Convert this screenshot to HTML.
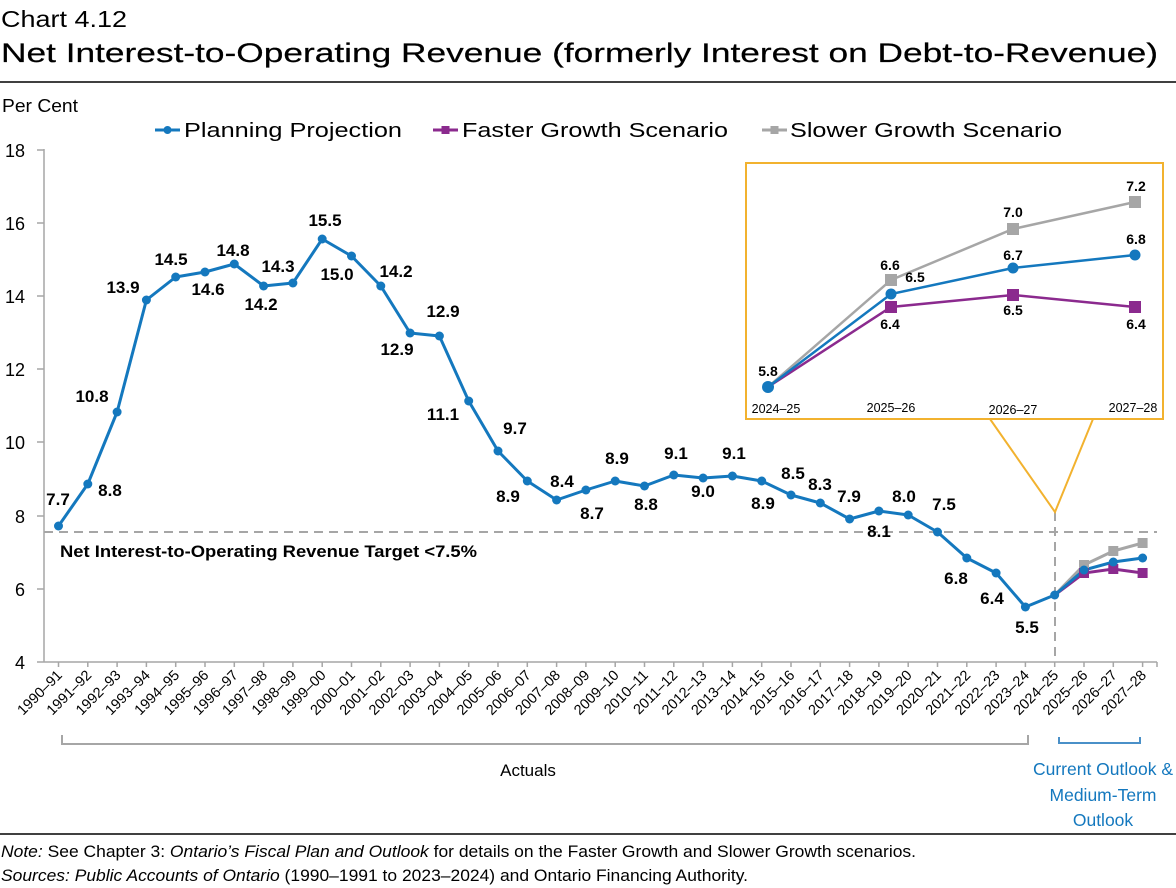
<!DOCTYPE html>
<html><head><meta charset="utf-8"><style>
html,body{margin:0;padding:0;background:#fff;}
svg{display:block;font-family:"Liberation Sans",Arial,sans-serif;}
</style></head><body>
<svg width="1176" height="888" viewBox="0 0 1176 888" xmlns="http://www.w3.org/2000/svg">
<text x="1" y="27" font-size="23" fill="#000" textLength="126" lengthAdjust="spacingAndGlyphs">Chart 4.12</text>
<text x="1" y="62" font-size="27" fill="#000" stroke="#000" stroke-width="0.2" textLength="1157" lengthAdjust="spacingAndGlyphs">Net Interest-to-Operating Revenue (formerly Interest on Debt-to-Revenue)</text>
<line x1="0" y1="82" x2="1176" y2="82" stroke="#000" stroke-width="1.5"/>
<text x="2" y="112" font-size="18" fill="#000" textLength="76" lengthAdjust="spacingAndGlyphs">Per Cent</text>

<line x1="155" y1="130" x2="180" y2="130" stroke="#1478BE" stroke-width="3"/>
<circle cx="167.5" cy="130" r="4" fill="#1478BE"/>
<text x="184" y="137" font-size="20" fill="#000" textLength="218" lengthAdjust="spacingAndGlyphs">Planning Projection</text>
<line x1="433" y1="130" x2="458" y2="130" stroke="#8B2A8E" stroke-width="3"/>
<rect x="441.5" y="126" width="8" height="8" fill="#8B2A8E"/>
<text x="462" y="137" font-size="20" fill="#000" textLength="266" lengthAdjust="spacingAndGlyphs">Faster Growth Scenario</text>
<line x1="762" y1="130" x2="787" y2="130" stroke="#A6A6A6" stroke-width="3"/>
<rect x="770.5" y="126" width="8" height="8" fill="#A6A6A6"/>
<text x="790" y="137" font-size="20" fill="#000" textLength="272" lengthAdjust="spacingAndGlyphs">Slower Growth Scenario</text>

<g stroke="#A6A6A6" stroke-width="1.5">
<line x1="44" y1="149" x2="44" y2="662"/>
<line x1="37" y1="150" x2="44" y2="150"/>
<line x1="37" y1="223" x2="44" y2="223"/>
<line x1="37" y1="296" x2="44" y2="296"/>
<line x1="37" y1="369" x2="44" y2="369"/>
<line x1="37" y1="442" x2="44" y2="442"/>
<line x1="37" y1="516" x2="44" y2="516"/>
<line x1="37" y1="589" x2="44" y2="589"/>
<line x1="37" y1="662" x2="1157" y2="662"/>
</g>
<g font-size="18" fill="#000" text-anchor="end">
<text x="25" y="157">18</text><text x="25" y="230">16</text><text x="25" y="303">14</text>
<text x="25" y="376">12</text><text x="25" y="449">10</text><text x="25" y="523">8</text>
<text x="25" y="596">6</text><text x="25" y="669">4</text>
</g>
<g stroke="#A6A6A6" stroke-width="1.5">
<path d="M58.5 662v5M87.8 662v5M117.1 662v5M146.4 662v5M175.7 662v5M205 662v5M234.3 662v5M263.6 662v5M292.9 662v5M322.2 662v5M351.5 662v5M380.8 662v5M410.1 662v5M439.4 662v5M468.7 662v5M498 662v5M527.3 662v5M556.6 662v5M585.9 662v5M615.2 662v5M644.5 662v5M673.8 662v5M703.1 662v5M732.4 662v5M761.7 662v5M791 662v5M820.3 662v5M849.6 662v5M878.9 662v5M908.2 662v5M937.5 662v5M966.8 662v5M996.1 662v5M1025.4 662v5M1054.7 662v5M1084 662v5M1113.3 662v5M1142.6 662v5M1157 662v5"/>
</g>
<g font-size="14.5" fill="#000" text-anchor="end">
<text transform="translate(63,676) rotate(-45)">1990–91</text>
<text transform="translate(92.3,676) rotate(-45)">1991–92</text>
<text transform="translate(121.6,676) rotate(-45)">1992–93</text>
<text transform="translate(150.9,676) rotate(-45)">1993–94</text>
<text transform="translate(180.2,676) rotate(-45)">1994–95</text>
<text transform="translate(209.5,676) rotate(-45)">1995–96</text>
<text transform="translate(238.8,676) rotate(-45)">1996–97</text>
<text transform="translate(268.1,676) rotate(-45)">1997–98</text>
<text transform="translate(297.4,676) rotate(-45)">1998–99</text>
<text transform="translate(326.7,676) rotate(-45)">1999–00</text>
<text transform="translate(356,676) rotate(-45)">2000–01</text>
<text transform="translate(385.3,676) rotate(-45)">2001–02</text>
<text transform="translate(414.6,676) rotate(-45)">2002–03</text>
<text transform="translate(443.9,676) rotate(-45)">2003–04</text>
<text transform="translate(473.2,676) rotate(-45)">2004–05</text>
<text transform="translate(502.5,676) rotate(-45)">2005–06</text>
<text transform="translate(531.8,676) rotate(-45)">2006–07</text>
<text transform="translate(561.1,676) rotate(-45)">2007–08</text>
<text transform="translate(590.4,676) rotate(-45)">2008–09</text>
<text transform="translate(619.7,676) rotate(-45)">2009–10</text>
<text transform="translate(649,676) rotate(-45)">2010–11</text>
<text transform="translate(678.3,676) rotate(-45)">2011–12</text>
<text transform="translate(707.6,676) rotate(-45)">2012–13</text>
<text transform="translate(736.9,676) rotate(-45)">2013–14</text>
<text transform="translate(766.2,676) rotate(-45)">2014–15</text>
<text transform="translate(795.5,676) rotate(-45)">2015–16</text>
<text transform="translate(824.8,676) rotate(-45)">2016–17</text>
<text transform="translate(854.1,676) rotate(-45)">2017–18</text>
<text transform="translate(883.4,676) rotate(-45)">2018–19</text>
<text transform="translate(912.7,676) rotate(-45)">2019–20</text>
<text transform="translate(942,676) rotate(-45)">2020–21</text>
<text transform="translate(971.3,676) rotate(-45)">2021–22</text>
<text transform="translate(1000.6,676) rotate(-45)">2022–23</text>
<text transform="translate(1029.9,676) rotate(-45)">2023–24</text>
<text transform="translate(1059.2,676) rotate(-45)">2024–25</text>
<text transform="translate(1088.5,676) rotate(-45)">2025–26</text>
<text transform="translate(1117.8,676) rotate(-45)">2026–27</text>
<text transform="translate(1147.1,676) rotate(-45)">2027–28</text>
</g>

<line x1="44" y1="532" x2="1157" y2="532" stroke="#A6A6A6" stroke-width="2" stroke-dasharray="9,6"/>
<line x1="1055" y1="512" x2="1055" y2="662" stroke="#A6A6A6" stroke-width="2" stroke-dasharray="9,6"/>
<text x="60" y="557" font-size="17" font-weight="bold" fill="#000" textLength="417" lengthAdjust="spacingAndGlyphs">Net Interest-to-Operating  Revenue Target &lt;7.5%</text>

<rect x="746" y="163" width="417" height="256" fill="#fff" stroke="#F2B22F" stroke-width="2"/>
<polyline points="990,419 1055,512 1093,419" fill="none" stroke="#F2B22F" stroke-width="2"/>

<polyline fill="none" stroke="#1478BE" stroke-width="3" stroke-linejoin="round" points="58.5,526 87.8,484 117.1,412 146.4,300 175.7,277 205,272 234.3,264 263.6,286 292.9,283 322.2,239 351.5,256 380.8,286 410.1,333 439.4,336 468.7,401 498,451 527.3,481 556.6,500 585.9,490 615.2,481 644.5,486 673.8,475 703.1,478 732.4,476 761.7,481 791,495 820.3,503 849.6,519 878.9,511 908.2,515 937.5,532 966.8,558 996.1,573 1025.4,607 1054.7,595"/>
<polyline fill="none" stroke="#A6A6A6" stroke-width="3" points="1054.7,595 1084,565 1113.3,551 1142.6,543"/>
<polyline fill="none" stroke="#8B2A8E" stroke-width="3" points="1054.7,595 1084,573 1113.3,569 1142.6,573"/>
<polyline fill="none" stroke="#1478BE" stroke-width="3" points="1054.7,595 1084,570 1113.3,562 1142.6,558"/>
<g fill="#A6A6A6"><rect x="1079" y="560" width="10" height="10"/><rect x="1108.3" y="546" width="10" height="10"/><rect x="1137.6" y="538" width="10" height="10"/></g>
<g fill="#8B2A8E"><rect x="1079" y="568" width="10" height="10"/><rect x="1108.3" y="564" width="10" height="10"/><rect x="1137.6" y="568" width="10" height="10"/></g>
<g fill="#1478BE">
<circle cx="58.5" cy="526" r="4.5"/><circle cx="87.8" cy="484" r="4.5"/><circle cx="117.1" cy="412" r="4.5"/><circle cx="146.4" cy="300" r="4.5"/><circle cx="175.7" cy="277" r="4.5"/><circle cx="205" cy="272" r="4.5"/><circle cx="234.3" cy="264" r="4.5"/><circle cx="263.6" cy="286" r="4.5"/><circle cx="292.9" cy="283" r="4.5"/><circle cx="322.2" cy="239" r="4.5"/><circle cx="351.5" cy="256" r="4.5"/><circle cx="380.8" cy="286" r="4.5"/><circle cx="410.1" cy="333" r="4.5"/><circle cx="439.4" cy="336" r="4.5"/><circle cx="468.7" cy="401" r="4.5"/><circle cx="498" cy="451" r="4.5"/><circle cx="527.3" cy="481" r="4.5"/><circle cx="556.6" cy="500" r="4.5"/><circle cx="585.9" cy="490" r="4.5"/><circle cx="615.2" cy="481" r="4.5"/><circle cx="644.5" cy="486" r="4.5"/><circle cx="673.8" cy="475" r="4.5"/><circle cx="703.1" cy="478" r="4.5"/><circle cx="732.4" cy="476" r="4.5"/><circle cx="761.7" cy="481" r="4.5"/><circle cx="791" cy="495" r="4.5"/><circle cx="820.3" cy="503" r="4.5"/><circle cx="849.6" cy="519" r="4.5"/><circle cx="878.9" cy="511" r="4.5"/><circle cx="908.2" cy="515" r="4.5"/><circle cx="937.5" cy="532" r="4.5"/><circle cx="966.8" cy="558" r="4.5"/><circle cx="996.1" cy="573" r="4.5"/><circle cx="1025.4" cy="607" r="4.5"/><circle cx="1054.7" cy="595" r="4.5"/><circle cx="1084" cy="570" r="4.5"/><circle cx="1113.3" cy="562" r="4.5"/><circle cx="1142.6" cy="558" r="4.5"/>
</g>

<g font-size="17" font-weight="bold" fill="#000" text-anchor="middle">
<text x="58" y="505">7.7</text><text x="110" y="496">8.8</text><text x="92" y="402">10.8</text>
<text x="123" y="293">13.9</text><text x="171" y="265">14.5</text><text x="208" y="295">14.6</text>
<text x="233" y="256">14.8</text><text x="261" y="310">14.2</text><text x="278" y="272">14.3</text>
<text x="325" y="226">15.5</text><text x="337" y="280">15.0</text><text x="396" y="277">14.2</text>
<text x="397" y="355">12.9</text><text x="443" y="317">12.9</text><text x="443" y="420">11.1</text>
<text x="515" y="434">9.7</text><text x="508" y="502">8.9</text><text x="562" y="487">8.4</text>
<text x="592" y="519">8.7</text><text x="617" y="464">8.9</text><text x="646" y="510">8.8</text>
<text x="676" y="459">9.1</text><text x="703" y="497">9.0</text><text x="734" y="459">9.1</text>
<text x="763" y="509">8.9</text><text x="793" y="479">8.5</text><text x="820" y="490">8.3</text>
<text x="849" y="502">7.9</text><text x="879" y="537">8.1</text><text x="904" y="502">8.0</text>
<text x="944" y="510">7.5</text><text x="956" y="584">6.8</text><text x="992" y="604">6.4</text>
<text x="1027" y="633">5.5</text>
</g>

<polyline fill="none" stroke="#A6A6A6" stroke-width="2.5" points="768,387 891,280 1013,229 1135,202"/>
<polyline fill="none" stroke="#8B2A8E" stroke-width="2.5" points="768,387 891,307 1013,295 1135,307"/>
<polyline fill="none" stroke="#1478BE" stroke-width="2.5" points="768,387 891,294 1013,268 1135,255"/>
<g fill="#A6A6A6"><rect x="885" y="274" width="12" height="12"/><rect x="1007" y="223" width="12" height="12"/><rect x="1129" y="196" width="12" height="12"/></g>
<g fill="#8B2A8E"><rect x="885" y="301" width="12" height="12"/><rect x="1007" y="289" width="12" height="12"/><rect x="1129" y="301" width="12" height="12"/></g>
<g fill="#1478BE"><circle cx="768" cy="387" r="6"/><circle cx="891" cy="294" r="5.5"/><circle cx="1013" cy="268" r="5.5"/><circle cx="1135" cy="255" r="5.5"/></g>
<g font-size="14" font-weight="bold" fill="#000" text-anchor="middle">
<text x="768" y="376">5.8</text><text x="890" y="270">6.6</text><text x="915" y="282">6.5</text>
<text x="890" y="329">6.4</text><text x="1013" y="217">7.0</text><text x="1013" y="260">6.7</text>
<text x="1013" y="315">6.5</text><text x="1136" y="191">7.2</text><text x="1136" y="244">6.8</text>
<text x="1136" y="329">6.4</text>
</g>
<g font-size="12.5" fill="#000" text-anchor="middle">
<text x="776" y="413">2024–25</text><text x="891" y="412">2025–26</text>
<text x="1013" y="414">2026–27</text><text x="1133" y="412">2027–28</text>
</g>

<polyline fill="none" stroke="#A6A6A6" stroke-width="2" points="62,735 62,744 1028,744 1028,735"/>
<text x="528" y="776" font-size="17" fill="#000" text-anchor="middle">Actuals</text>
<polyline fill="none" stroke="#4A90C8" stroke-width="2" points="1059,737 1059,743 1140,743 1140,737"/>
<g font-size="17.5" fill="#1478BE" text-anchor="middle">
<text x="1103" y="775">Current Outlook &amp;</text>
<text x="1103" y="801">Medium-Term</text>
<text x="1103" y="826">Outlook</text>
</g>

<line x1="0" y1="834" x2="1176" y2="834" stroke="#000" stroke-width="1.5"/>
<text x="1" y="857" font-size="17" fill="#000" textLength="915" lengthAdjust="spacingAndGlyphs"><tspan font-style="italic">Note:</tspan> See Chapter 3: <tspan font-style="italic">Ontario’s Fiscal Plan and Outlook</tspan> for details on the Faster Growth and Slower Growth scenarios.</text>
<text x="1" y="881" font-size="17" fill="#000" textLength="747" lengthAdjust="spacingAndGlyphs"><tspan font-style="italic">Sources: Public Accounts of Ontario</tspan> (1990–1991 to 2023–2024) and Ontario Financing Authority.</text>
</svg>
</body></html>
